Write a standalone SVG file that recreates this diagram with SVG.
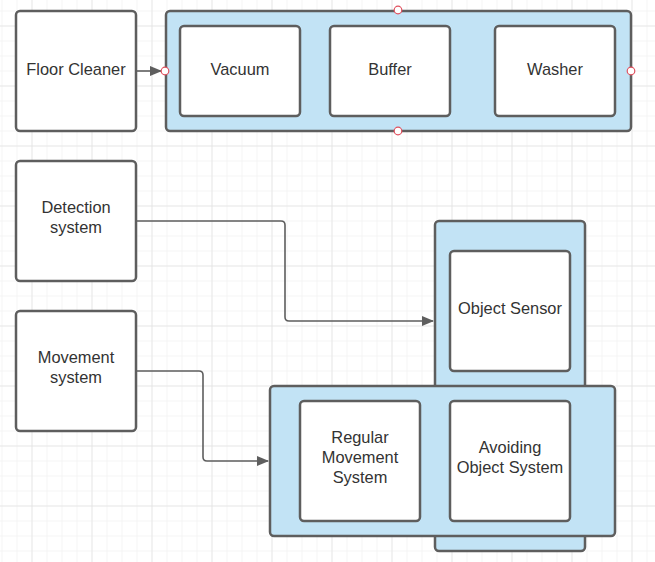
<svg xmlns="http://www.w3.org/2000/svg" width="655" height="562" viewBox="0 0 655 562">
<defs>
<pattern id="minor" x="1.5" y="10.5" width="15" height="15" patternUnits="userSpaceOnUse">
<path d="M0 0H15M0 0V15" fill="none" stroke="#ebebeb" stroke-width="1"/>
</pattern>
<pattern id="major" x="31.5" y="25.5" width="60" height="60" patternUnits="userSpaceOnUse">
<path d="M0 0H60M0 0V60" fill="none" stroke="#dcdcdc" stroke-width="1"/>
</pattern>
<marker id="arr" markerWidth="12" markerHeight="10" refX="11" refY="5" orient="auto" markerUnits="userSpaceOnUse">
<path d="M0 0L12 5L0 10Z" fill="#5e5e5e"/>
</marker>
</defs>
<style>
.box{fill:#ffffff;stroke:#5e5e5e;stroke-width:2.5}
.cont{fill:#c2e3f5;stroke:#5e5e5e;stroke-width:2.5}
.t{font-family:"Liberation Sans",Arial,sans-serif;font-size:16.4px;fill:#333333;text-anchor:middle;dominant-baseline:central}
.c{fill:none;stroke:#5e5e5e;stroke-width:1.6}
.pt{fill:#ffffff;stroke:#e0505e;stroke-width:1.2}
</style>
<rect width="655" height="562" fill="#ffffff"/>
<rect width="655" height="562" fill="url(#minor)"/>
<rect width="655" height="562" fill="url(#major)"/>

<g id="floor-cleaner">
<rect class="box" x="16" y="11" width="120" height="120" rx="4"/>
<text class="t" x="76" y="69">Floor Cleaner</text>
</g>

<g id="cleaning-group">
<rect class="cont" x="166" y="11" width="465" height="120" rx="4"/>
</g>
<g id="vacuum">
<rect class="box" x="180" y="26" width="120" height="90" rx="4"/>
<text class="t" x="240" y="69">Vacuum</text>
</g>
<g id="buffer">
<rect class="box" x="330" y="26" width="120" height="90" rx="4"/>
<text class="t" x="390" y="69">Buffer</text>
</g>
<g id="washer">
<rect class="box" x="495" y="26" width="120" height="90" rx="4"/>
<text class="t" x="555" y="69">Washer</text>
</g>

<g id="detection-system">
<rect class="box" x="16" y="161" width="120" height="120" rx="4"/>
<text class="t" x="76" y="207">Detection</text>
<text class="t" x="76" y="227">system</text>
</g>

<g id="movement-system">
<rect class="box" x="16" y="311" width="120" height="120" rx="4"/>
<text class="t" x="76" y="357">Movement</text>
<text class="t" x="76" y="377">system</text>
</g>

<g id="sensor-group">
<rect class="cont" x="435" y="221" width="150" height="330" rx="4"/>
</g>
<g id="object-sensor">
<rect class="box" x="450" y="251" width="120" height="120" rx="4"/>
<text class="t" x="510" y="308">Object Sensor</text>
</g>

<g id="movement-group">
<rect class="cont" x="270" y="386" width="345" height="150" rx="4"/>
</g>
<g id="regular-movement">
<rect class="box" x="300" y="401" width="120" height="120" rx="4"/>
<text class="t" x="360" y="437">Regular</text>
<text class="t" x="360" y="457">Movement</text>
<text class="t" x="360" y="477">System</text>
</g>
<g id="avoiding-object">
<rect class="box" x="450" y="401" width="120" height="120" rx="4"/>
<text class="t" x="510" y="447">Avoiding</text>
<text class="t" x="510" y="467">Object System</text>
</g>

<g id="connectors">
<path class="c" d="M136 71H161" marker-end="url(#arr)"/>
<path class="c" d="M136 221H281Q285 221 285 225V317Q285 321 289 321H433" marker-end="url(#arr)"/>
<path class="c" d="M136 371H199Q203 371 203 375V457Q203 461 207 461H268" marker-end="url(#arr)"/>
</g>

<g id="connection-points">
<circle class="pt" cx="398" cy="10" r="3.8"/>
<circle class="pt" cx="398" cy="131" r="3.8"/>
<circle class="pt" cx="165" cy="71" r="3.8"/>
<circle class="pt" cx="631" cy="71" r="3.8"/>
</g>
</svg>
